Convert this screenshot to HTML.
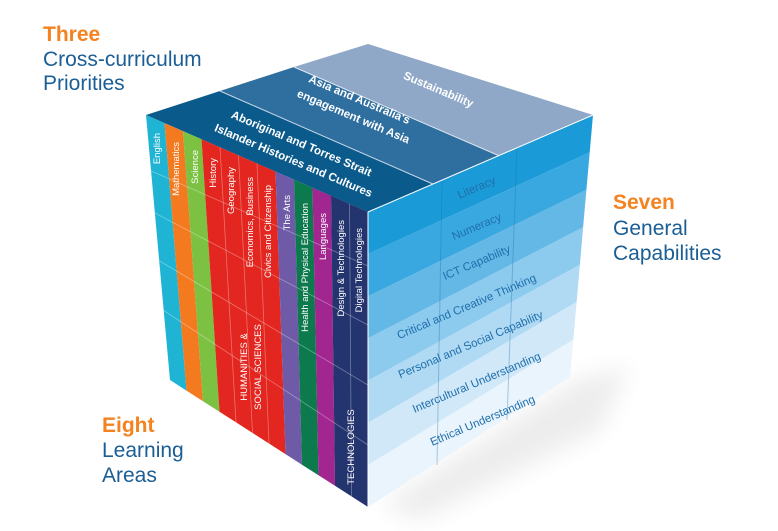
<!DOCTYPE html>
<html><head><meta charset="utf-8"><style>
html,body{margin:0;padding:0;background:#fff;}
svg{display:block;font-family:"Liberation Sans",Arial,sans-serif;}
</style></head><body>
<svg width="778" height="531" viewBox="0 0 778 531" xmlns="http://www.w3.org/2000/svg">
<defs>
<filter id="bl" x="-50%" y="-50%" width="200%" height="200%"><feGaussianBlur stdDeviation="12"/></filter>
</defs>
<polygon points="380,505 575,380 630,365 600,430 420,520" fill="#000" opacity="0.07" filter="url(#bl)"/>

<text x="43" y="41" font-size="21" font-weight="bold" fill="#f58220">Three</text>
<text x="43" y="66" font-size="21" fill="#1a5e95">Cross-curriculum</text>
<text x="43" y="90" font-size="21" fill="#1a5e95">Priorities</text>
<text x="613" y="209" font-size="21" font-weight="bold" fill="#f58220">Seven</text>
<text x="613" y="235" font-size="21" fill="#1a5e95">General</text>
<text x="613" y="260" font-size="21" fill="#1a5e95">Capabilities</text>
<text x="102" y="432" font-size="21" font-weight="bold" fill="#f58220">Eight</text>
<text x="102" y="457" font-size="21" fill="#1a5e95">Learning</text>
<text x="102" y="482" font-size="21" fill="#1a5e95">Areas</text>

<polygon points="146,115 220,91 442,188 368,212" fill="#0b5a8c"/>
<polygon points="220,91 294,67 518,164 442,188" fill="#2f6f9f"/>
<polygon points="294,67 368,44 593,115 518,164" fill="#8fa8c8"/>
<line x1="220" y1="91" x2="442" y2="188" stroke="#c8d6e6" stroke-width="1"/>
<line x1="294" y1="67" x2="518" y2="164" stroke="#dde6f0" stroke-width="1"/>
<g fill="#fff" font-weight="bold" font-size="11.5">
<text transform="translate(437,93) rotate(23)" text-anchor="middle">Sustainability</text>
<text transform="translate(358,103) rotate(23)" text-anchor="middle">Asia and Australia's</text>
<text transform="translate(352,120) rotate(23)" text-anchor="middle">engagement with Asia</text>
<text transform="translate(300,147) rotate(23)" text-anchor="middle">Aboriginal and Torres Strait</text>
<text transform="translate(292,164) rotate(23)" text-anchor="middle">Islander Histories and Cultures</text>
</g>

<polygon points="146,115 164.5,123.1 186.5,390.6 170,380" fill="#1fb4d4"/>
<polygon points="164.5,123.1 183,131.2 203,401.2 186.5,390.6" fill="#f47a20"/>
<polygon points="183,131.2 201.5,139.2 219.5,411.7 203,401.2" fill="#7dc143"/>
<polygon points="201.5,139.2 275.5,171.6 285.5,454.1 219.5,411.7" fill="#e3261f"/>
<polygon points="275.5,171.6 294,179.7 302,464.7 285.5,454.1" fill="#6e5aa6"/>
<polygon points="294,179.7 312.5,187.7 318.5,475.2 302,464.7" fill="#0c7a4c"/>
<polygon points="312.5,187.7 331,195.8 335,485.8 318.5,475.2" fill="#a1268f"/>
<polygon points="331,195.8 368,212 368,507 335,485.8" fill="#24346f"/>
<g stroke="#ffffff" stroke-opacity="0.35" stroke-width="0.8">
<line x1="220" y1="147.3" x2="236" y2="422.3"/>
<line x1="238.5" y1="155.4" x2="252.5" y2="432.9"/>
<line x1="257" y1="163.5" x2="269" y2="443.5"/>
<line x1="349.5" y1="203.9" x2="351.5" y2="496.4"/>
<line x1="149" y1="170" x2="368" y2="266"/>
<line x1="153" y1="212" x2="368" y2="325"/>
<line x1="158" y1="260" x2="368" y2="385"/>
<line x1="163" y1="310" x2="368" y2="445"/>
</g>
<g fill="#fff" font-size="9.5">
<text transform="translate(160,133) rotate(-90)" text-anchor="end">English</text>
<text transform="translate(179,142) rotate(-90)" text-anchor="end">Mathematics</text>
<text transform="translate(198,150) rotate(-90)" text-anchor="end">Science</text>
<text transform="translate(216,158) rotate(-90)" text-anchor="end">History</text>
<text transform="translate(234,167) rotate(-90)" text-anchor="end">Geography</text>
<text transform="translate(253,177) rotate(-90)" text-anchor="end">Economics, Business</text>
<text transform="translate(271,185) rotate(-90)" text-anchor="end">Civics and Citizenship</text>
<text transform="translate(290,195) rotate(-90)" text-anchor="end">The Arts</text>
<text transform="translate(308,203) rotate(-90)" text-anchor="end">Health and Physical Education</text>
<text transform="translate(326,213) rotate(-90)" text-anchor="end">Languages</text>
<text transform="translate(344,220) rotate(-90)" text-anchor="end">Design &amp; Technologies</text>
<text transform="translate(362,228) rotate(-90)" text-anchor="end">Digital Technologies</text>
<text transform="translate(247,367) rotate(-90)" text-anchor="middle">HUMANITIES &amp;</text>
<text transform="translate(261,367) rotate(-90)" text-anchor="middle">SOCIAL SCIENCES</text>
<text transform="translate(354,447) rotate(-90)" text-anchor="middle">TECHNOLOGIES</text>
</g>

<polygon points="368,212 593,115 589.7,152.4 368,254.1" fill="#1a9bd7"/>
<polygon points="368,254.1 589.7,152.4 586.4,189.9 368,296.3" fill="#3aa8e0"/>
<polygon points="368,296.3 586.4,189.9 583.1,227.3 368,338.4" fill="#64b8e6"/>
<polygon points="368,338.4 583.1,227.3 579.9,264.7 368,380.6" fill="#8ccaee"/>
<polygon points="368,380.6 579.9,264.7 576.6,302.1 368,422.7" fill="#b0daf3"/>
<polygon points="368,422.7 576.6,302.1 573.3,339.6 368,464.9" fill="#d0e8f8"/>
<polygon points="368,464.9 573.3,339.6 570,377 368,507" fill="#eaf4fc"/>
<g stroke="#1f6fab" stroke-opacity="0.35" stroke-width="1">
<line x1="442" y1="180" x2="437" y2="465"/>
<line x1="517" y1="147" x2="507" y2="420"/>
</g>
<line x1="368" y1="212" x2="368" y2="507" stroke="#fff" stroke-width="1"/>
<line x1="368" y1="212" x2="593" y2="115" stroke="#fff" stroke-width="1"/>
<g fill="#1f6fab" font-size="11.5">
<text transform="translate(478,191) rotate(-23)" text-anchor="middle">Literacy</text>
<text transform="translate(478,230) rotate(-23)" text-anchor="middle">Numeracy</text>
<text transform="translate(478,266) rotate(-23)" text-anchor="middle">ICT Capability</text>
<text transform="translate(468,310) rotate(-23)" text-anchor="middle">Critical and Creative Thinking</text>
<text transform="translate(472,348) rotate(-23)" text-anchor="middle">Personal and Social Capability</text>
<text transform="translate(478,386) rotate(-23)" text-anchor="middle">Intercultural Understanding</text>
<text transform="translate(484,424) rotate(-23)" text-anchor="middle">Ethical Understanding</text>
</g>
</svg>
</body></html>
